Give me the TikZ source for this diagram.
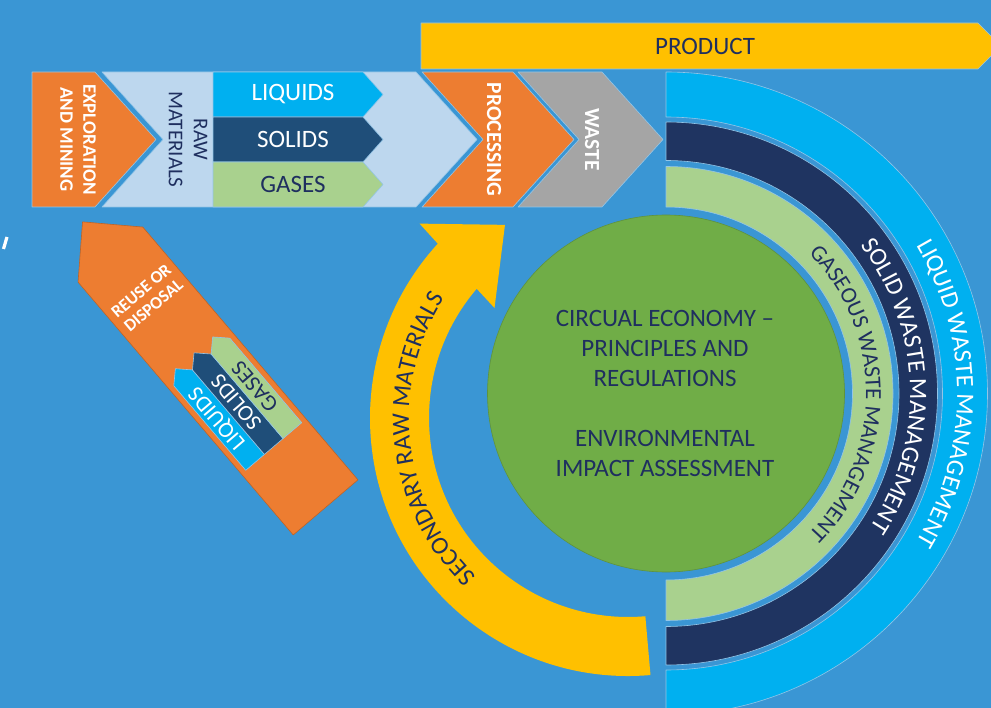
\documentclass[tikz,border=0pt]{standalone}
\usepackage{fontspec}
\setmainfont{Carlito}
\usepackage{tikz}
\usetikzlibrary{calc,decorations.text}
\definecolor{bgblue}{HTML}{3A96D4}
\definecolor{orng}{HTML}{ED7D31}
\definecolor{paleblue}{HTML}{BDD7EE}
\definecolor{liqblue}{HTML}{00B0F0}
\definecolor{soldark}{HTML}{1F4E79}
\definecolor{gasgreen}{HTML}{A9D18E}
\definecolor{navyring}{HTML}{1F3461}
\definecolor{navytext}{HTML}{1F2F5F}
\definecolor{wastegray}{HTML}{A5A5A5}
\definecolor{prodyellow}{HTML}{FFC000}
\definecolor{circgreen}{HTML}{70AD47}
\tikzset{
  edge/.style={draw=bgblue!55!white, line width=0.6pt},
  vlabel/.style={rotate=-90, align=center, inner sep=0pt},
  biglabel/.style={inner sep=0pt, font=\fontsize{25}{30}\selectfont},
  ringtext/.style={decorate, decoration={text along path, text align=center, text={#1}}}
}
\begin{document}
\begin{tikzpicture}[line cap=round,line join=round,x=1pt,y=1pt]
	\fill[color=bgblue] (0,0) rectangle (991,-708);
	\useasboundingbox (0,0) rectangle (991,-708);
	\coordinate (rc) at (666,-393.5);
	\coordinate (yc) at (628,-418);
	\draw[color=white, line width=3.2pt, line cap=butt] (3.5,-249) -- (7,-237);
	% product bar
	\fill[color=prodyellow, edge] (421,-23) -- (978,-23) -- (1001,-46) -- (978,-69) -- (421,-69) -- cycle;
	\node[biglabel, text=navytext] (prod) at (705,-46) {PRODUCT};
	% chevrons
	\fill[color=orng, edge] (32,-72) -- (95,-72) -- (156,-139.5) -- (95,-207) -- (32,-207) -- cycle;
	\fill[color=paleblue, edge] (102,-72) -- (416,-72) -- (477,-139.5) -- (416,-207) -- (102,-207) -- (163,-139.5) -- cycle;
	\fill[color=orng, edge] (422,-72) -- (513,-72) -- (574,-139.5) -- (513,-207) -- (422,-207) -- (483,-139.5) -- cycle;
	\fill[color=wastegray, edge] (518,-72) -- (602,-72) -- (663,-139.5) -- (602,-207) -- (518,-207) -- (579,-139.5) -- cycle;
	\foreach \y/\c/\t/\tc [count=\i] in {72/liqblue/LIQUIDS/white, 117/soldark/SOLIDS/white, 162/gasgreen/GASES/navytext}
	{
	\fill[color=\c, edge] (213,-\y) -- (363,-\y) -- (383,-\y-22.5) -- (363,-\y-45) -- (213,-\y-45) -- cycle;
	\node[biglabel, text=\tc] (top\i) at (293,-\y-22.5) {\t};
	}
	\node[vlabel, text=white, font=\fontsize{19}{23}\selectfont\bfseries] (expl) at (78,-139.5) {EXPLORATION\\AND MINING};
	\node[vlabel, text=navytext, font=\fontsize{21}{25}\selectfont] (raw) at (188,-139.5) {RAW\\MATERIALS};
	\node[vlabel, text=white, font=\fontsize{21.5}{25}\selectfont\bfseries] (proc) at (494,-139.5) {PROCESSING};
	\node[vlabel, text=white, font=\fontsize{21.5}{25}\selectfont\bfseries] (waste) at (592,-139.5) {WASTE};
	% reuse arrow
	\begin{scope}[shift={(218,-381)}, rotate=130.4, transform shape]
	\fill[color=orng, draw=orng!80!black, line width=0.6pt] (-166,-42.5) -- (166,-42.5) -- (209,0) -- (166,42.5) -- (-166,42.5) -- cycle;
	\node[vlabel, text=white, font=\fontsize{17.5}{19}\selectfont\bfseries] (reuse) at (109,0) {REUSE OR\\DISPOSAL};
	\foreach \v/\c/\t/\tc [count=\i] in {24.5/liqblue/LIQUIDS/white, 0/soldark/SOLIDS/white, -24.5/gasgreen/GASES/navytext}
	{
	\fill[color=\c, edge] (-86,\v-12.25) -- (25,\v-12.25) -- (37,\v) -- (25,\v+12.25) -- (-86,\v+12.25) -- cycle;
	\node[inner sep=0pt, text=\tc, font=\fontsize{22.5}{22.5}\selectfont] (back\i) at (-28,\v) {\t};
	}
	\end{scope}
	% secondary raw materials
	\fill[color=prodyellow] ([shift={(275:258)}]yc) arc[start angle=275, end angle=137.5, radius=258]
	-- ([shift={(137:285)}]yc) -- ([shift={(122.5:229)}]yc) -- ([shift={(140.5:173)}]yc)
	-- ([shift={(139.5:199)}]yc) arc[start angle=139.5, end angle=275, radius=199] -- cycle;
	\path[ringtext={|\fontsize{25}{25}\selectfont\color{navytext}|SECONDARY RAW MATERIALS}] ([shift={(246.5:219)}]yc) arc[start angle=246.5, end angle=126.5, radius=219];
	% waste rings
	\foreach \ro/\ri/\c in {321.5/276.5/liqblue, 271.5/233/navyring, 227/186.5/gasgreen}
	\fill[color=\c, edge] ([shift={(90:\ro)}]rc) arc[start angle=90, end angle=-90, radius=\ro] -- ([shift={(-90:\ri)}]rc) arc[start angle=-90, end angle=90, radius=\ri] -- cycle;
	\path[ringtext={|\fontsize{25}{25}\selectfont\color{white}|LIQUID WASTE MANAGEMENT}] ([shift={(60:291)}]rc) arc[start angle=60, end angle=-60, radius=291];
	\path[ringtext={|\fontsize{25}{25}\selectfont\color{white}|SOLID WASTE MANAGEMENT}] ([shift={(62:244)}]rc) arc[start angle=62, end angle=-58, radius=244];
	\path[ringtext={|\fontsize{23}{23}\selectfont\color{navytext}|GASEOUS WASTE MANAGEMENT}] ([shift={(60:200)}]rc) arc[start angle=60, end angle=-60, radius=200];
	% centre
	\fill[color=circgreen, draw=circgreen!85!black, line width=0.6pt] (rc) circle (178.5);
	\node[biglabel, text=navytext, align=center] (ce) at (665,-393) {CIRCUAL ECONOMY –\\PRINCIPLES AND\\REGULATIONS\\[30pt]ENVIRONMENTAL\\IMPACT ASSESSMENT};
\end{tikzpicture}
\end{document}
